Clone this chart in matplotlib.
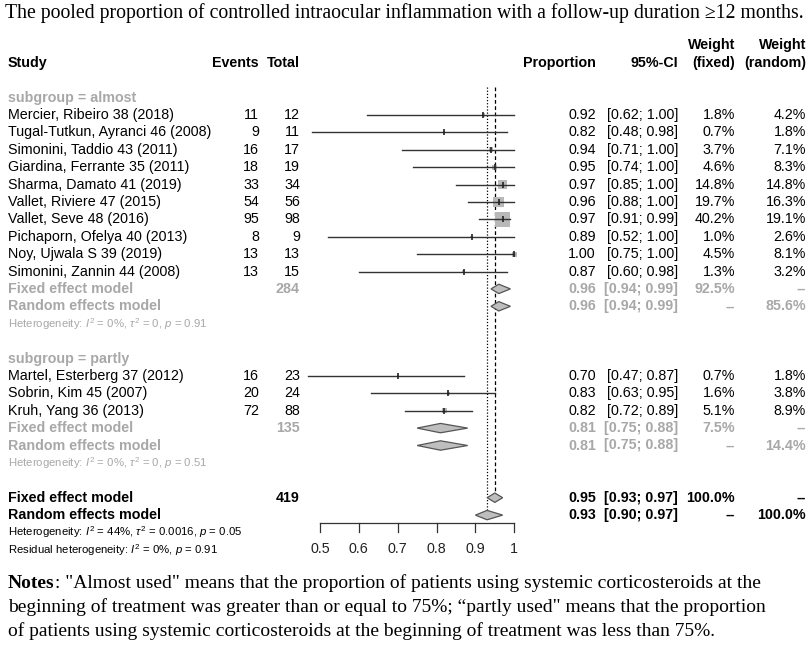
import numpy as np
import matplotlib
matplotlib.use("Agg")
import matplotlib.pyplot as plt
from matplotlib import transforms
from matplotlib.patches import Polygon

plt.rcParams['font.family'] = ['Liberation Sans', 'DejaVu Sans']
plt.rcParams['mathtext.fontset'] = 'custom'
plt.rcParams['mathtext.rm'] = 'Liberation Sans'
plt.rcParams['mathtext.it'] = 'Liberation Sans:italic'

title = "The pooled proportion of controlled intraocular inflammation with a follow-up duration \u226512 months."

# subgroup = almost
studies_a = ["Mercier, Ribeiro 38 (2018)", "Tugal-Tutkun, Ayranci 46 (2008)",
             "Simonini, Taddio 43 (2011)", "Giardina, Ferrante 35 (2011)",
             "Sharma, Damato 41 (2019)", "Vallet, Riviere 47 (2015)",
             "Vallet, Seve 48 (2016)", "Pichaporn, Ofelya 40 (2013)",
             "Noy, Ujwala S 39 (2019)", "Simonini, Zannin 44 (2008)"]
events_a = [11, 9, 16, 18, 33, 54, 95, 8, 13, 13]
totals_a = [12, 11, 17, 19, 34, 56, 98, 9, 13, 15]
prop_a = [0.92, 0.82, 0.94, 0.95, 0.97, 0.96, 0.97, 0.89, 1.00, 0.87]
lower_a = [0.62, 0.48, 0.71, 0.74, 0.85, 0.88, 0.91, 0.52, 0.75, 0.60]
upper_a = [1.00, 0.98, 1.00, 1.00, 1.00, 1.00, 0.99, 1.00, 1.00, 0.98]
wfix_a = [1.8, 0.7, 3.7, 4.6, 14.8, 19.7, 40.2, 1.0, 4.5, 1.3]
wran_a = [4.2, 1.8, 7.1, 8.3, 14.8, 16.3, 19.1, 2.6, 8.1, 3.2]

# subgroup = partly
studies_p = ["Martel, Esterberg 37 (2012)", "Sobrin, Kim 45 (2007)", "Kruh, Yang 36 (2013)"]
events_p = [16, 20, 72]
totals_p = [23, 24, 88]
prop_p = [0.70, 0.83, 0.82]
lower_p = [0.47, 0.63, 0.72]
upper_p = [0.87, 0.95, 0.89]
wfix_p = [0.7, 1.6, 5.1]
wran_p = [1.8, 3.8, 8.9]

# pooled estimates: (estimate, lower, upper)
fixed_a = (0.96, 0.94, 0.99)
random_a = (0.96, 0.94, 0.99)
fixed_p = (0.81, 0.75, 0.88)
random_p = (0.81, 0.75, 0.88)
fixed_all = (0.95, 0.93, 0.97)
random_all = (0.93, 0.90, 0.97)
n_a, n_p, n_all = 284, 135, 419
wsum_fix = [92.5, 7.5]
wsum_ran = [85.6, 14.4]

het_a = r"Heterogeneity: $I^2$ = 0%, $\tau^2$ = 0, $p$ = 0.91"
het_p = r"Heterogeneity: $I^2$ = 0%, $\tau^2$ = 0, $p$ = 0.51"
het_all = r"Heterogeneity: $I^2$ = 44%, $\tau^2$ = 0.0016, $p$ = 0.05"
het_res = r"Residual heterogeneity: $I^2$ = 0%, $p$ = 0.91"

xticks = [0.5, 0.6, 0.7, 0.8, 0.9, 1]

notes = ['"Almost used" means that the proportion of patients using systemic corticosteroids at the',
         'beginning of treatment was greater than or equal to 75%; \u201cpartly used" means that the proportion',
         'of patients using systemic corticosteroids at the beginning of treatment was less than 75%.']

W, H = 809, 651
fig = plt.figure(figsize=(W / 100, H / 100), dpi=100)
ax = fig.add_axes([0, 0, 1, 1])
ax.set_xlim(0, W)
ax.set_ylim(H, 0)
ax.axis('off')

# forest axes: x from 0.5 to 1, y in row units (row 0 = first subgroup label)
y0, dy = 97.5, 17.4
top_row, bot_row = -4, 27.5
px_l, px_r = 320, 514.3
ax2 = fig.add_axes([px_l / W, 1 - (y0 + dy * bot_row) / H,
                    (px_r - px_l) / W, dy * (bot_row - top_row) / H])
ax2.set_xlim(0.5, 1)
ax2.set_ylim(bot_row, top_row)
ax2.axis('off')
ax2.patch.set_alpha(0)

tr = transforms.blended_transform_factory(ax.transData, ax2.transData)

FS = 10.3
HFS = 8.2
GRAY = '#A8A8A8'
x_name, x_ev, x_tot, x_prop, x_ci, x_wf, x_wr = 8, 259, 300, 596, 678, 735, 806


def txt(x, row, s, ha='right', **kw):
    ax.text(x, row, s, transform=tr, ha=ha, va='center', fontsize=kw.pop('fontsize', FS), **kw)


def study_row(row, name, ev, tot, p, lo, hi, wf, wr):
    txt(x_name, row, name, ha='left')
    txt(x_ev, row, str(ev))
    txt(x_tot, row, str(tot))
    txt(x_prop, row, f"{p:.2f}")
    txt(x_ci, row, f"[{lo:.2f}; {hi:.2f}]")
    txt(x_wf, row, f"{wf:.1f}%")
    txt(x_wr, row, f"{wr:.1f}%")
    ax2.plot([lo, hi], [row, row], color='#333333', lw=1, clip_on=False, zorder=3)
    side = 2.4 * np.sqrt(wf) * 0.72
    ax2.scatter([p], [row], marker='s', s=side ** 2, color='#B8B8B8', edgecolors='none',
                clip_on=False, zorder=2)
    ax2.plot([p], [row], marker='|', ms=4, mew=1.2, color='#222222', clip_on=False, zorder=4)


def diamond(row, est, color, label, n=None, wf='--', wr='--'):
    e, lo, hi = est
    h = 0.27
    ax2.add_patch(Polygon([[lo, row], [e, row - h], [hi, row], [e, row + h]], closed=True,
                          facecolor='#BEBEBE', edgecolor='#555555', lw=0.9, clip_on=False, zorder=4))
    txt(x_name, row, label, ha='left', color=color, fontweight='bold')
    if n is not None:
        txt(x_tot, row, str(n), color=color, fontweight='bold')
    txt(x_prop, row, f"{e:.2f}", color=color, fontweight='bold')
    txt(x_ci, row, f"[{lo:.2f}; {hi:.2f}]", color=color, fontweight='bold')
    txt(x_wf, row, wf, color=color, fontweight='bold')
    txt(x_wr, row, wr, color=color, fontweight='bold')


# title
ax.text(5, 13, title, ha='left', va='center', fontsize=14.2, family=['Liberation Serif', 'DejaVu Serif'])

# headers
txt(x_name, -2, "Study", ha='left', fontweight='bold')
txt(x_ev, -2, "Events", fontweight='bold')
txt(x_tot, -2, "Total", fontweight='bold')
txt(x_prop, -2, "Proportion", fontweight='bold')
txt(x_ci, -2, "95%-CI", fontweight='bold')
txt(x_wf, -3, "Weight", fontweight='bold')
txt(x_wf, -2, "(fixed)", fontweight='bold')
txt(x_wr, -3, "Weight", fontweight='bold')
txt(x_wr, -2, "(random)", fontweight='bold')

# reference lines
ax2.plot([fixed_all[0]] * 2, [-0.6, 23], color='black', lw=0.9, ls=(0, (3, 2)), zorder=1)
ax2.plot([random_all[0]] * 2, [-0.6, 24], color='black', lw=0.9, ls=(0, (1, 1.5)), zorder=1)

# subgroup almost
txt(x_name, 0, "subgroup = almost", ha='left', color=GRAY, fontweight='bold')
for i in range(len(studies_a)):
    study_row(1 + i, studies_a[i], events_a[i], totals_a[i], prop_a[i], lower_a[i],
              upper_a[i], wfix_a[i], wran_a[i])
r = 1 + len(studies_a)
diamond(r, fixed_a, GRAY, "Fixed effect model", n_a, f"{wsum_fix[0]:.1f}%", '--')
diamond(r + 1, random_a, GRAY, "Random effects model", None, '--', f"{wsum_ran[0]:.1f}%")
txt(x_name, r + 2, het_a, ha='left', color=GRAY, fontsize=HFS)

# subgroup partly
r0 = r + 4
txt(x_name, r0, "subgroup = partly", ha='left', color=GRAY, fontweight='bold')
for i in range(len(studies_p)):
    study_row(r0 + 1 + i, studies_p[i], events_p[i], totals_p[i], prop_p[i], lower_p[i],
              upper_p[i], wfix_p[i], wran_p[i])
r = r0 + 1 + len(studies_p)
diamond(r, fixed_p, GRAY, "Fixed effect model", n_p, f"{wsum_fix[1]:.1f}%", '--')
diamond(r + 1, random_p, GRAY, "Random effects model", None, '--', f"{wsum_ran[1]:.1f}%")
txt(x_name, r + 2, het_p, ha='left', color=GRAY, fontsize=HFS)

# overall
r = r + 4
diamond(r, fixed_all, 'black', "Fixed effect model", n_all, "100.0%", '--')
diamond(r + 1, random_all, 'black', "Random effects model", None, '--', "100.0%")
txt(x_name, r + 2, het_all, ha='left', fontsize=HFS)
txt(x_name, r + 3, het_res, ha='left', fontsize=HFS)

# x axis
ya = r + 1.45
ax2.plot([xticks[0], xticks[-1]], [ya, ya], color='#333333', lw=0.9, clip_on=False)
for t in xticks:
    ax2.plot([t, t], [ya, ya + 0.5], color='#333333', lw=0.9, clip_on=False)
    ax2.text(t, r + 2.95, f"{t:g}", ha='center', va='center', fontsize=FS, color='#222222')

# notes
serif = ['Liberation Serif', 'DejaVu Serif']
NFS = 14.0
nb = ax.text(8, 583, "Notes", ha='left', va='center', fontsize=NFS, fontweight='bold', family=serif)
ax.annotate(": " + notes[0], xy=(1, 0.5), xycoords=nb, ha='left', va='center', fontsize=NFS, family=serif)
ax.text(8, 607, notes[1], ha='left', va='center', fontsize=NFS, family=serif)
ax.text(8, 631, notes[2], ha='left', va='center', fontsize=NFS, family=serif)

fig.savefig("out.png", dpi=100)
